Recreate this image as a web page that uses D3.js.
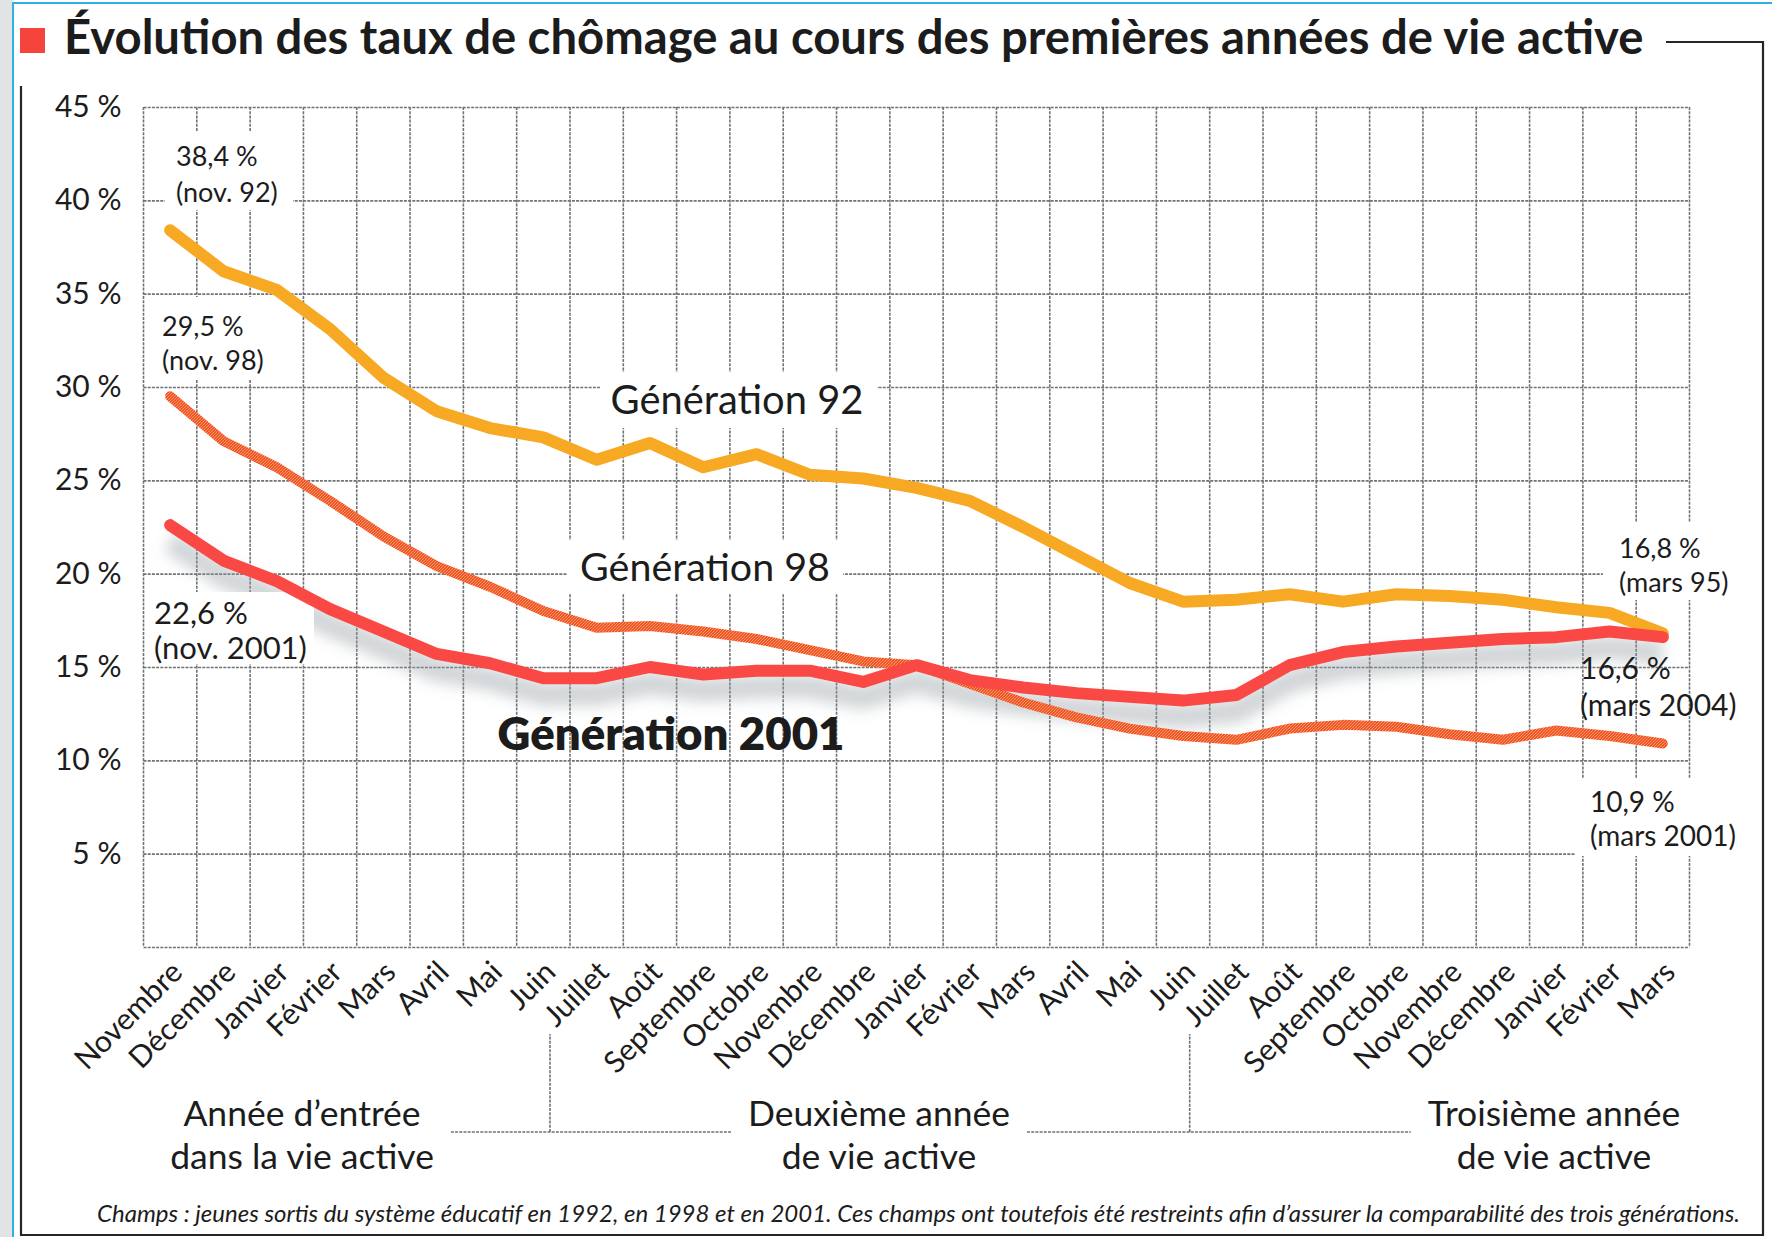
<!DOCTYPE html>
<html lang="fr">
<head>
<meta charset="utf-8">
<script src="https://cdn.jsdelivr.net/npm/d3@7"></script>
<style>
  body { margin: 0; background: #fff; }
  svg { display: block; }
  text { font-family: Lato, 'Noto Sans', sans-serif; fill: #1c1c1c; }
</style>
</head>
<body>
<svg id="chart" width="1772" height="1237"></svg>
<script>
'use strict';

const months = ['Novembre', 'Décembre', 'Janvier', 'Février', 'Mars', 'Avril',
  'Mai', 'Juin', 'Juillet', 'Août', 'Septembre', 'Octobre', 'Novembre',
  'Décembre', 'Janvier', 'Février', 'Mars', 'Avril', 'Mai', 'Juin', 'Juillet',
  'Août', 'Septembre', 'Octobre', 'Novembre', 'Décembre', 'Janvier',
  'Février', 'Mars'];

const gen92 = [38.4, 36.2, 35.2, 33.1, 30.5, 28.7, 27.8, 27.3, 26.1, 27.0,
  25.7, 26.4, 25.3, 25.1, 24.6, 23.9, 22.5, 21.0, 19.5, 18.5, 18.6, 18.9,
  18.5, 18.9, 18.8, 18.6, 18.2, 17.9, 16.8];

const gen98 = [29.5, 27.1, 25.7, 23.9, 22.0, 20.4, 19.3, 18.0, 17.1, 17.2,
  16.9, 16.5, 15.9, 15.3, 15.1, 14.1, 13.1, 12.3, 11.7, 11.3, 11.1, 11.7,
  11.9, 11.8, 11.4, 11.1, 11.6, 11.3, 10.9];

const gen2001 = [22.6, 20.7, 19.6, 18.1, 16.9, 15.7, 15.2, 14.4, 14.4, 15.0,
  14.6, 14.8, 14.8, 14.2, 15.1, 14.3, 13.9, 13.6, 13.4, 13.2, 13.5, 15.1,
  15.8, 16.1, 16.3, 16.5, 16.6, 16.9, 16.6];

const yTicks = [0, 5, 10, 15, 20, 25, 30, 35, 40, 45];

const periods = [
  ['Année d’entrée', 'dans la vie active'],
  ['Deuxième année', 'de vie active'],
  ['Troisième année', 'de vie active']
];

const title = 'Évolution des taux de chômage au cours des premières années de vie active';
const footnote = 'Champs : jeunes sortis du système éducatif en 1992, en 1998 et en 2001. ' +
  'Ces champs ont toutefois été restreints afin d’assurer la comparabilité des trois générations.';

let svg = d3.select('#chart');
let width = 1772;
let height = 1237;
let plot = {left: 143.5, right: 1689.5, top: 107, bottom: 947};

let x = d3
  .scaleBand()
  .domain(d3.range(months.length))
  .range([plot.left, plot.right]);
let y = d3
  .scaleLinear()
  .domain([0, 45])
  .range([plot.bottom, plot.top]);
let cx = i => x(i) + x.bandwidth() / 2;

// scale a text so that it spans the wanted width
function fitWidth(sel, w) {
  let fs = parseFloat(sel.attr('font-size'));
  let len = sel.node().getComputedTextLength();
  sel.attr('font-size', fs * w / len);
}

let defs = svg.append('defs');
defs.append('filter')
  .attr('id', 'blur')
  .attr('x', '-10%').attr('y', '-50%')
  .attr('width', '120%').attr('height', '200%')
  .append('feGaussianBlur')
  .attr('stdDeviation', 7);

// dithered print look of the 98 line
let dots = defs.append('pattern')
  .attr('id', 'dots')
  .attr('width', 3).attr('height', 3)
  .attr('patternUnits', 'userSpaceOnUse');
dots.append('rect').attr('width', 3).attr('height', 3).attr('fill', '#f2503f');
[[0, 0], [2, 1], [1, 2]].forEach(function(p) {
  dots.append('rect')
    .attr('x', p[0]).attr('y', p[1])
    .attr('width', 1).attr('height', 1)
    .attr('fill', '#f9a23a');
});

// page frame
svg.append('rect').attr('width', width).attr('height', height).attr('fill', '#fff');
svg.append('rect').attr('width', 12).attr('height', height).attr('fill', '#e2e3e4');
let frame = svg.append('g').attr('fill', 'none');
frame.append('path')
  .attr('d', 'M13,' + height + 'V3H' + width)
  .attr('stroke', '#2db2e4').attr('stroke-width', 2);
frame.append('path')
  .attr('d', 'M21,86V1235H1763V42H1666')
  .attr('stroke', '#262626').attr('stroke-width', 2.2);

// title
svg.append('rect')
  .attr('x', 20).attr('y', 28)
  .attr('width', 25).attr('height', 25)
  .attr('fill', '#f5443c');
let titleText = svg.append('text')
  .attr('x', 64).attr('y', 54)
  .attr('font-size', 40)
  .attr('font-weight', 700)
  .text(title);
fitWidth(titleText, 1580);

// grid
let gridStyle = function(sel) {
  sel.attr('stroke', '#707375')
    .attr('stroke-width', 1.6)
    .attr('stroke-dasharray', '3 1.2');
};

let yAxis = svg.append('g')
  .attr('transform', 'translate(' + plot.left + ',0)')
  .call(d3.axisLeft(y)
    .tickValues(yTicks)
    .tickSize(-(plot.right - plot.left))
    .tickPadding(22)
    .tickFormat(d => d ? d + ' %' : ''));
yAxis.select('.domain').remove();
yAxis.selectAll('.tick line').call(gridStyle);
yAxis.selectAll('.tick text')
  .attr('font-size', 30)
  .attr('fill', '#1c1c1c')
  .attr('font-family', 'Lato, sans-serif');

svg.append('g')
  .selectAll('line')
  .data(d3.range(months.length + 1))
  .join('line')
  .attr('x1', i => i < months.length ? x(i) : plot.right)
  .attr('x2', i => i < months.length ? x(i) : plot.right)
  .attr('y1', plot.top)
  .attr('y2', plot.bottom)
  .call(gridStyle);

// month labels
svg.append('g')
  .selectAll('text')
  .data(months)
  .join('text')
  .attr('transform', (d, i) => 'translate(' + (cx(i) + 14) + ',' + (plot.bottom + 27) + ') rotate(-45)')
  .attr('text-anchor', 'end')
  .attr('font-size', 30)
  .text(d => d);

// shadow under the 2001 line
let line = d3
  .line()
  .x((d, i) => cx(i))
  .y(d => y(d));

svg.append('path')
  .datum(gen2001)
  .attr('d', line)
  .attr('transform', 'translate(0,16)')
  .attr('fill', 'none')
  .attr('stroke', '#8f999d')
  .attr('stroke-opacity', 0.4)
  .attr('stroke-width', 24)
  .attr('filter', 'url(#blur)');

// labels with a white box cut into the grid
function note(lines, opts) {
  let g = svg.append('g');
  if (opts.box) {
    g.append('rect')
      .attr('x', opts.box[0]).attr('y', opts.box[1])
      .attr('width', opts.box[2] - opts.box[0])
      .attr('height', opts.box[3] - opts.box[1])
      .attr('fill', '#fff');
  }
  let t = g.append('text')
    .attr('font-size', opts.size)
    .attr('font-weight', opts.weight || 400)
    .attr('text-anchor', opts.anchor || 'start');
  lines.forEach(function(s, k) {
    t.append('tspan')
      .attr('x', opts.x)
      .attr('y', opts.y + k * (opts.lh || 0) + 0.36 * opts.size)
      .text(s);
  });
  if (opts.fit) fitWidth(t, opts.fit);
  return t;
}

note(['38,4 %', '(nov. 92)'], {x: 176, y: 156, lh: 36, size: 27, box: [165, 132, 293, 210]});
note(['29,5 %', '(nov. 98)'], {x: 162, y: 326, lh: 34, size: 27, box: [150, 297, 272, 380]});
note(['22,6 %', '(nov. 2001)'], {x: 154, y: 613, lh: 35, size: 31, box: [148, 592, 314, 664]});
note(['16,8 %', '(mars 95)'], {x: 1619, y: 548, lh: 34, size: 27, box: [1603, 522, 1740, 600]});
note(['10,9 %', '(mars 2001)'], {x: 1590, y: 802, lh: 34, size: 28, box: [1575, 778, 1745, 856]});

note(['Génération 92'], {x: 737, y: 401, size: 36, anchor: 'middle', fit: 253, box: [600, 372, 877, 428]});
note(['Génération 98'], {x: 705, y: 568, size: 36, anchor: 'middle', fit: 250, box: [567, 540, 843, 593]});

// series
let series = [
  {values: gen92, stroke: '#f8a923', w: 12},
  {values: gen98, stroke: 'url(#dots)', w: 10},
  {values: gen2001, stroke: '#fa4844', w: 12}
];
svg.append('g')
  .selectAll('path')
  .data(series)
  .join('path')
  .attr('d', d => line(d.values))
  .attr('fill', 'none')
  .attr('stroke', d => d.stroke)
  .attr('stroke-width', d => d.w)
  .attr('stroke-linejoin', 'round')
  .attr('stroke-linecap', 'round');

note(['16,6 %', '(mars 2004)'], {x: 1580, y: 668, lh: 37, size: 30});
note(['Génération 2001'], {x: 671, y: 737, size: 36, weight: 800, anchor: 'middle', fit: 347});

// period labels and brackets
let centers = [302, 879, 1554];
let boxes = periods.map(function(p, k) {
  let t = note(p, {x: centers[k], y: 1113, lh: 43, size: 35.5, anchor: 'middle'});
  return t.node().getBBox();
});
let brackets = svg.append('g').attr('fill', 'none').call(gridStyle);
[8, 20].forEach(function(i, k) {
  let left = boxes[k].x + boxes[k].width + 17;
  let right = boxes[k + 1].x - 17;
  let bx = x(i) - 20;
  brackets.append('path')
    .attr('d', 'M' + left + ',1132H' + right + 'M' + bx + ',1132V1034');
});

// footnote
let foot = svg.append('text')
  .attr('x', 97).attr('y', 1222)
  .attr('font-size', 22)
  .attr('font-style', 'italic')
  .attr('font-family', '"Liberation Serif", serif')
  .text(footnote);
fitWidth(foot, 1643);
</script>
</body>
</html>
